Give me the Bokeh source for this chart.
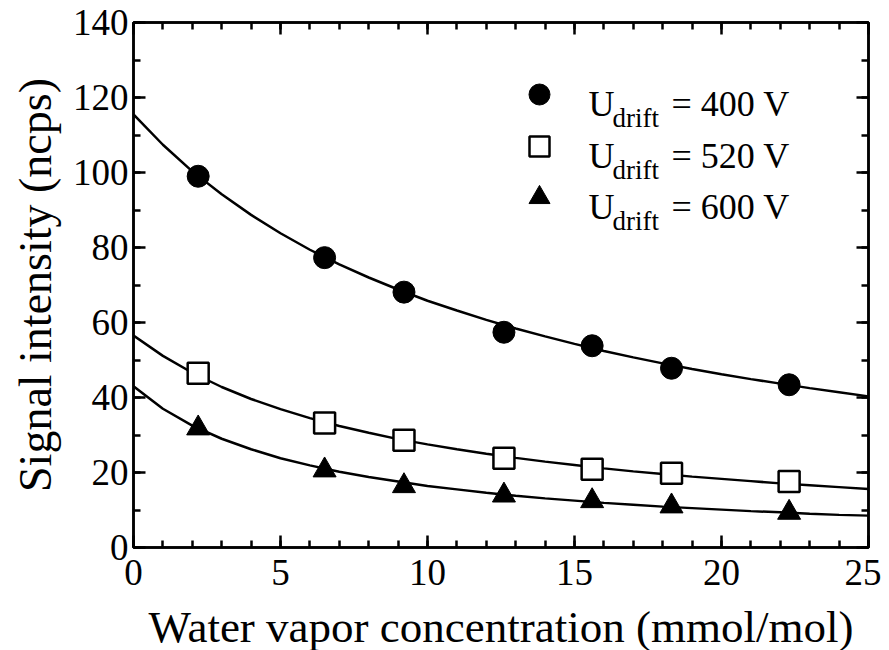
from bokeh.plotting import figure
from bokeh.models import Range1d, LinearAxis, SingleIntervalTicker, Label, CustomJSTickFormatter
from bokeh.embed import file_html
from bokeh.resources import INLINE

# ---- data ----
x_meas = [2.2, 6.5, 9.2, 12.6, 15.6, 18.3, 22.3]
y_400 = [99.0, 77.3, 68.1, 57.4, 53.8, 47.8, 43.4]
y_520 = [46.5, 33.2, 28.6, 23.8, 20.9, 19.8, 17.6]
y_600 = [31.8, 20.6, 16.4, 13.9, 12.4, 11.0, 9.3]

x_fit = list(range(0, 26))
fit_400 = [115.5, 107.4, 100.3, 94.2, 88.7, 83.8, 79.4, 75.5, 72.0, 68.8, 65.8, 63.2, 60.7,
           58.4, 56.3, 54.3, 52.4, 50.7, 49.1, 47.6, 46.2, 44.9, 43.7, 42.5, 41.4, 40.3]
fit_520 = [56.5, 51.1, 46.6, 42.8, 39.6, 36.9, 34.5, 32.4, 30.6, 28.9, 27.5, 26.2, 25.0,
           23.9, 22.9, 22.0, 21.1, 20.3, 19.6, 18.9, 18.3, 17.7, 17.1, 16.6, 16.1, 15.6]
fit_600 = [43.0, 37.0, 32.5, 29.0, 26.2, 23.8, 21.9, 20.2, 18.8, 17.6, 16.4, 15.5, 14.6,
           13.8, 13.1, 12.5, 11.9, 11.4, 10.9, 10.5, 10.1, 9.7, 9.4, 9.0, 8.7, 8.5]

legend_values = ["= 400 V", "= 520 V", "= 600 V"]
x_title = "Water vapor concentration (mmol/mol)"
y_title = "Signal intensity (ncps)"

# ---- layout ----
FW, FH = 735, 525
XMIN, XMAX, YMIN, YMAX = 0, 25, 0, 140
FONT = "Liberation Serif"

p = figure(width=881, height=642, frame_width=FW, frame_height=FH,
           output_backend="svg", toolbar_location=None,
           x_range=Range1d(XMIN, XMAX), y_range=Range1d(YMIN, YMAX),
           min_border_left=133, min_border_right=13, min_border_top=22, min_border_bottom=95)
p.grid.visible = False
p.background_fill_color = "white"
p.border_fill_color = "white"
p.outline_line_color = "black"
p.outline_line_width = 2.5

def style_axis(ax, show_labels):
    ax.axis_line_width = 2.5
    ax.major_tick_line_width = 2.5
    ax.minor_tick_line_width = 2.5
    ax.major_tick_in = 12
    ax.major_tick_out = 0
    ax.minor_tick_in = 7
    ax.minor_tick_out = 0
    ax.major_label_text_font = FONT
    ax.major_label_text_color = "black"
    ax.major_label_text_font_size = "37px"
    if not show_labels:
        ax.formatter = CustomJSTickFormatter(code="return '';")
        ax.major_label_standoff = 0

p.xaxis.ticker = SingleIntervalTicker(interval=5, num_minor_ticks=5)
p.yaxis.ticker = SingleIntervalTicker(interval=20, num_minor_ticks=2)
style_axis(p.xaxis[0], True)
style_axis(p.yaxis[0], True)
p.xaxis.major_label_standoff = 12
p.yaxis.major_label_standoff = 5
p.xaxis.axis_label = x_title
p.yaxis.axis_label = y_title
for ax in (p.xaxis[0], p.yaxis[0]):
    ax.axis_label_text_font = FONT
    ax.axis_label_text_font_style = "normal"
    ax.axis_label_text_color = "black"
p.xaxis.axis_label_text_font_size = "45px"
p.yaxis.axis_label_text_font_size = "46px"
p.xaxis.axis_label_standoff = 14
p.yaxis.axis_label_standoff = 9

top = LinearAxis(ticker=SingleIntervalTicker(interval=5, num_minor_ticks=5))
right = LinearAxis(ticker=SingleIntervalTicker(interval=20, num_minor_ticks=2))
style_axis(top, False)
style_axis(right, False)
p.add_layout(top, "above")
p.add_layout(right, "right")

# ---- fitted curves ----
for fy in (fit_400, fit_520, fit_600):
    p.line(x_fit, fy, line_color="black", line_width=2.5)

# ---- measured points ----
p.scatter(x_meas, y_400, marker="circle", size=22, fill_color="black", line_color="black")
p.scatter(x_meas, y_520, marker="square", size=21, fill_color="white", line_color="black", line_width=2.5)
p.scatter(x_meas, y_600, marker="triangle", size=23, fill_color="black", line_color="black")

# ---- legend (manual, with subscript) ----
def px_x(px):
    return XMIN + (px - 133) / FW * (XMAX - XMIN)

def px_y(py):
    return YMIN + (547 - py) / FH * (YMAX - YMIN)

rows_base = [103, 155, 206]
markers = [("circle", 21, "black", 0), ("square", 20, "white", 2.5), ("triangle", 21, "black", 0)]
for (mk, sz, fc, lw), pb, txt in zip(markers, rows_base, legend_values):
    kw = dict(marker=mk, size=sz, fill_color=fc, line_color="black")
    if lw:
        kw["line_width"] = lw
    p.scatter([px_x(539)], [px_y(pb - 9)], **kw)
    p.add_layout(Label(x=px_x(588), y=px_y(pb), text="U", text_font=FONT, text_font_size="36px",
                       text_baseline="alphabetic", text_color="black"))
    p.add_layout(Label(x=px_x(612), y=px_y(pb + 14), text="drift", text_font=FONT, text_font_size="27px",
                       text_baseline="alphabetic", text_color="black"))
    p.add_layout(Label(x=px_x(671), y=px_y(pb), text=txt, text_font=FONT, text_font_size="36px",
                       text_baseline="alphabetic", text_color="black"))

open("out.html", "w").write(file_html(p, INLINE))
